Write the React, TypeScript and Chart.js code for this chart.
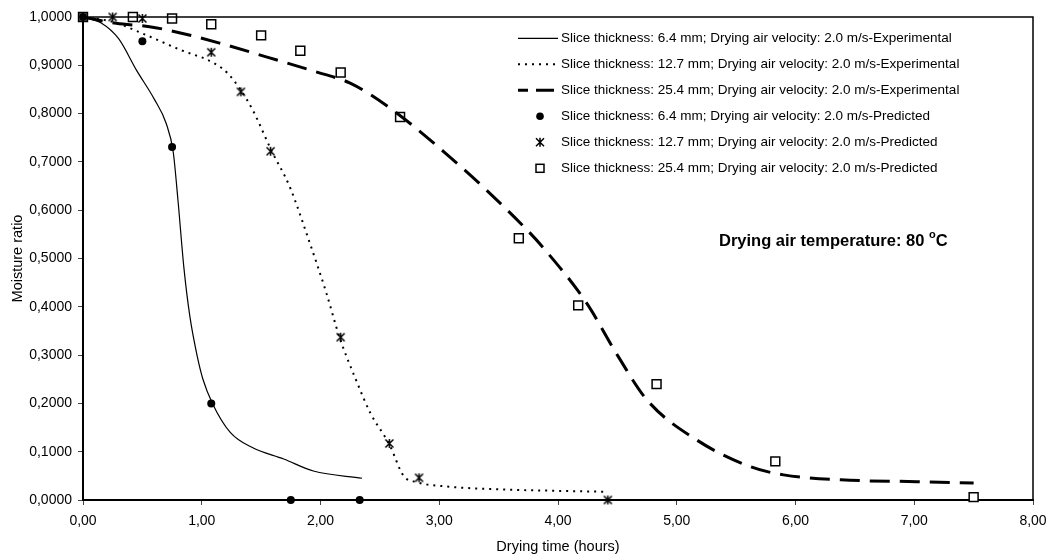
import React, { useEffect, useRef } from 'react';
import { Chart, registerables } from 'chart.js';
Chart.register(...registerables);

const FONT = '"Liberation Sans", Arial, Helvetica, sans-serif';

// Experimental curves (hours, moisture ratio)
const exp64X = [0, 0.15, 0.3, 0.45, 0.6, 0.7, 0.76, 0.8, 0.85, 0.9, 0.96, 1.01, 1.09, 1.24, 1.43, 1.69, 1.94, 2.35];
const exp64Y = [1, 0.988, 0.955, 0.89, 0.83, 0.78, 0.72, 0.62, 0.48, 0.38, 0.3, 0.25, 0.2, 0.14, 0.108, 0.085, 0.06, 0.045];

const exp127X = [0, 0.25, 0.5, 0.82, 1.1, 1.22, 1.33, 1.43, 1.59, 1.74, 1.91, 2.05, 2.16, 2.3, 2.42, 2.58, 2.7, 2.81, 3.06, 3.51, 3.99, 4.4];
const exp127Y = [1, 0.99, 0.966, 0.932, 0.905, 0.883, 0.848, 0.807, 0.722, 0.649, 0.532, 0.428, 0.337, 0.248, 0.18, 0.115, 0.05, 0.037, 0.028, 0.022, 0.019, 0.017];

const exp254X = [0, 0.28, 0.56, 0.82, 1.15, 1.55, 1.97, 2.25, 2.61, 3.09, 3.37, 3.74, 3.87, 4.24, 4.5, 4.75, 5.17, 5.62, 5.9, 6.46, 7.02, 7.5];
const exp254Y = [1, 0.987, 0.98, 0.967, 0.946, 0.917, 0.886, 0.863, 0.807, 0.71, 0.648, 0.559, 0.524, 0.408, 0.3, 0.207, 0.124, 0.069, 0.052, 0.041, 0.038, 0.035];

// Predicted points
const pred64X = [0, 0.5, 0.75, 1.08, 1.75, 2.33];
const pred64Y = [1, 0.95, 0.731, 0.2, 0, 0];

const pred127X = [0, 0.25, 0.5, 1.08, 1.33, 1.58, 2.17, 2.58, 2.83, 4.42];
const pred127Y = [1, 1, 0.997, 0.927, 0.845, 0.722, 0.337, 0.117, 0.046, 0];

const pred254X = [0, 0.42, 0.75, 1.08, 1.5, 1.83, 2.17, 2.67, 3.67, 4.17, 4.83, 5.83, 7.5];
const pred254Y = [1, 1, 0.997, 0.985, 0.962, 0.93, 0.885, 0.793, 0.542, 0.403, 0.24, 0.08, 0.006];

const legendLabels = [
  'Slice thickness: 6.4 mm; Drying air velocity: 2.0 m/s-Experimental',
  'Slice thickness: 12.7 mm; Drying air velocity: 2.0 m/s-Experimental',
  'Slice thickness: 25.4 mm; Drying air velocity: 2.0 m/s-Experimental',
  'Slice thickness: 6.4 mm; Drying air velocity: 2.0 m/s-Predicted',
  'Slice thickness: 12.7 mm; Drying air velocity: 2.0 m/s-Predicted',
  'Slice thickness: 25.4 mm; Drying air velocity: 2.0 m/s-Predicted',
];

const xTitle = 'Drying time (hours)';
const yTitle = 'Moisture ratio';
const noteMain = 'Drying air temperature: 80 ';
const noteSup = 'o';
const noteEnd = 'C';

const pts = (xs: number[], ys: number[]) => xs.map((x, i) => ({ x, y: ys[i] }));

function drawStar(ctx: CanvasRenderingContext2D, cx: number, cy: number, r: number) {
  ctx.save();
  ctx.strokeStyle = '#000';
  ctx.lineWidth = 1.5;
  ctx.beginPath();
  ctx.moveTo(cx - r, cy - r); ctx.lineTo(cx + r, cy + r);
  ctx.moveTo(cx + r, cy - r); ctx.lineTo(cx - r, cy + r);
  ctx.moveTo(cx, cy - r - 0.5); ctx.lineTo(cx, cy + r + 0.5);
  ctx.stroke();
  ctx.restore();
}

function makeStarImage() {
  const c = document.createElement('canvas');
  c.width = 11; c.height = 11;
  const ctx = c.getContext('2d')!;
  drawStar(ctx, 5.5, 5.5, 4);
  return c;
}

const decorPlugin = {
  id: 'decor',
  afterDraw(chart: any) {
    const { ctx, chartArea } = chart;
    const { left, top, right, bottom } = chartArea;
    ctx.save();
    // plot box
    ctx.strokeStyle = '#000';
    ctx.lineWidth = 1.5;
    ctx.beginPath();
    ctx.moveTo(left, top); ctx.lineTo(right, top); ctx.lineTo(right, bottom);
    ctx.stroke();

    // legend
    const lx0 = 518, lx1 = 558, mx = 540, tx = 561;
    const y0 = 38.3, step = 26;
    ctx.font = `13.5px ${FONT}`;
    ctx.fillStyle = '#000';
    ctx.textBaseline = 'middle';
    ctx.textAlign = 'left';
    legendLabels.forEach((lab, i) => {
      const y = y0 + i * step;
      ctx.save();
      ctx.strokeStyle = '#000';
      if (i === 0) { ctx.lineWidth = 1.2; ctx.setLineDash([]); }
      if (i === 1) { ctx.lineWidth = 2; ctx.setLineDash([2, 5]); }
      if (i === 2) { ctx.lineWidth = 3; ctx.setLineDash([18, 8]); ctx.lineDashOffset = 8; }
      if (i < 3) {
        ctx.beginPath(); ctx.moveTo(lx0, y); ctx.lineTo(lx1, y); ctx.stroke();
      } else if (i === 3) {
        ctx.beginPath(); ctx.arc(mx, y, 3.8, 0, Math.PI * 2); ctx.fill();
      } else if (i === 4) {
        drawStar(ctx, mx, y, 4);
      } else {
        ctx.lineWidth = 1.5; ctx.strokeRect(mx - 4, y - 4, 8, 8);
      }
      ctx.restore();
      ctx.fillText(lab, tx, y);
    });

    // annotation
    ctx.font = `bold 16.5px ${FONT}`;
    ctx.textBaseline = 'alphabetic';
    let x = 719; const by = 246;
    ctx.fillText(noteMain, x, by);
    x += ctx.measureText(noteMain).width;
    ctx.font = `bold 11px ${FONT}`;
    ctx.fillText(noteSup, x, by - 8);
    x += ctx.measureText(noteSup).width;
    ctx.font = `bold 16.5px ${FONT}`;
    ctx.fillText(noteEnd, x, by);
    ctx.restore();
  },
};

export default function App() {
  const ref = useRef<HTMLCanvasElement | null>(null);
  useEffect(() => {
    document.body.style.margin = '0';
    const star = makeStarImage();
    const tickFont = { family: FONT, size: 14 };
    const titleFont = { family: FONT, size: 14.5 };
    const chart = new Chart(ref.current!, {
      type: 'scatter',
      data: {
        datasets: [
          { label: legendLabels[0], data: pts(exp64X, exp64Y), showLine: true, borderColor: '#000', borderWidth: 1.2, pointRadius: 0, cubicInterpolationMode: 'monotone' } as any,
          { label: legendLabels[1], data: pts(exp127X, exp127Y), showLine: true, borderColor: '#000', borderWidth: 2, borderDash: [2, 5], pointRadius: 0, cubicInterpolationMode: 'monotone' } as any,
          { label: legendLabels[2], data: pts(exp254X, exp254Y), showLine: true, borderColor: '#000', borderWidth: 3, borderDash: [20, 10], pointRadius: 0, cubicInterpolationMode: 'monotone' } as any,
          { label: legendLabels[3], data: pts(pred64X, pred64Y), pointStyle: 'circle', pointRadius: 4, backgroundColor: '#000', borderColor: '#000', borderWidth: 0, clip: false } as any,
          { label: legendLabels[4], data: pts(pred127X, pred127Y), pointStyle: star, pointRadius: 5, clip: false } as any,
          { label: legendLabels[5], data: pts(pred254X, pred254Y), pointStyle: 'rect', pointRadius: 6.3, backgroundColor: '#fff', borderColor: '#000', borderWidth: 1.5, clip: false } as any,
        ],
      },
      options: {
        responsive: false,
        animation: false,
        devicePixelRatio: 1,
        layout: { padding: { left: 0, right: 16, top: 17, bottom: 0 } },
        plugins: { legend: { display: false }, tooltip: { enabled: false } },
        scales: {
          x: {
            type: 'linear', min: 0, max: 8,
            ticks: { stepSize: 1, color: '#000', font: tickFont, padding: 8, maxRotation: 0, callback: (v: any) => Number(v).toFixed(2).replace('.', ',') },
            grid: { drawOnChartArea: false, drawTicks: true, tickLength: 5, color: '#444', lineWidth: 1 },
            border: { display: true, color: '#000', width: 2 },
            title: { display: true, text: xTitle, color: '#000', font: titleFont, padding: { top: 0, bottom: 0 } },
            afterFit: (s: any) => { s.height = 56; s.paddingLeft = 0; s.paddingRight = 0; },
          },
          y: {
            type: 'linear', min: 0, max: 1,
            ticks: { stepSize: 0.1, color: '#000', font: tickFont, padding: 6, callback: (v: any) => Number(v).toFixed(4).replace('.', ',') },
            grid: { drawOnChartArea: false, drawTicks: true, tickLength: 5, color: '#444', lineWidth: 1 },
            border: { display: true, color: '#000', width: 2 },
            title: { display: true, text: yTitle, color: '#000', font: titleFont, padding: { top: 9, bottom: 0 } },
            afterFit: (s: any) => { s.width = 83; s.paddingTop = 0; s.paddingBottom = 0; },
          },
        },
      } as any,
      plugins: [decorPlugin],
    });
    return () => chart.destroy();
  }, []);
  return (
    <div style={{ width: 1049, height: 556 }}>
      <canvas ref={ref} width={1049} height={556} style={{ display: 'block' }} />
    </div>
  );
}
